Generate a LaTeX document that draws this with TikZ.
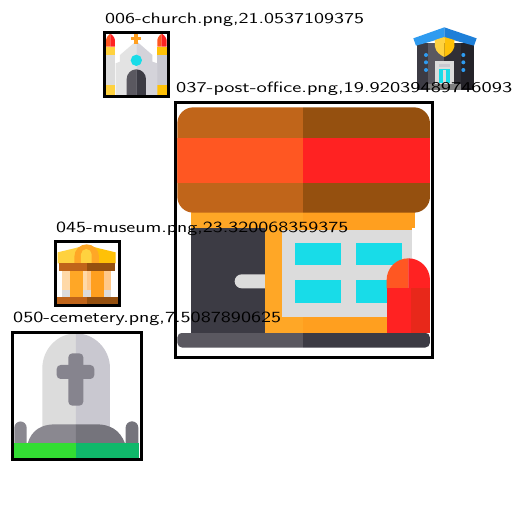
\documentclass[tikz,border=0pt]{standalone}
\definecolor{brL}{HTML}{C0651A}\definecolor{brR}{HTML}{95500F}
\definecolor{redL}{HTML}{FF5722}\definecolor{redR}{HTML}{FF2222}
\definecolor{redD}{HTML}{E8281A}
\definecolor{orL}{HTML}{FFA726}\definecolor{orR}{HTML}{FF9F1F}
\definecolor{dk}{HTML}{3C3B44}\definecolor{dkL}{HTML}{5A5860}
\definecolor{cy}{HTML}{18DCE8}\definecolor{gy}{HTML}{DCDCDC}
\definecolor{gyR}{HTML}{C9C8D0}\definecolor{ylL}{HTML}{FFD23F}\definecolor{ylR}{HTML}{FFC107}
\definecolor{bl}{HTML}{2E9BF0}\definecolor{blR}{HTML}{1E7FD8}
\definecolor{stL}{HTML}{8A8890}\definecolor{stR}{HTML}{75747C}\definecolor{crs}{HTML}{86848E}
\definecolor{grL}{HTML}{33DD33}\definecolor{grR}{HTML}{10B86A}
\definecolor{pale}{HTML}{FFD9A8}\definecolor{paleR}{HTML}{FFC88A}
\tikzset{
 frame/.style={draw=black,line width=3pt,fill=none},
 lab/.style={anchor=base west,inner sep=0pt,font=\sffamily\fontsize{14}{14}\selectfont,text=black},
 zoomed/.style={x=0.3333pt,y=-0.3333pt},
}
\newcommand{\ltx}[2]{\resizebox{#1pt}{10.5pt}{#2}}
\begin{document}
\begin{tikzpicture}[x=1pt,y=-1pt]
\useasboundingbox (0,0) rectangle (512,512);
\fill[white] (0,0) rectangle (512,512);
% church
\begin{scope}[shift={(95,5)},zoomed]
 \fill[redL] (33,125) -- (33,105) .. controls (35,95) and (42,88) .. (46,86) -- (46,125) -- cycle;
 \fill[redR] (46,86) .. controls (50,88) and (58,95) .. (60,105) -- (60,125) -- (46,125) -- cycle;
 \fill[redL] (187,125) -- (187,105) .. controls (189,95) and (196,88) .. (200,86) -- (200,125) -- cycle;
 \fill[redR] (200,86) .. controls (204,88) and (213,95) .. (215,105) -- (215,125) -- (200,125) -- cycle;
 \fill[ylL] (33,125) rectangle (60,150); \fill[ylR] (187,125) rectangle (215,150);
 \fill[gy] (33,150) rectangle (60,240); \fill[gyR] (187,150) rectangle (215,240);
 \fill[ylL] (33,240) rectangle (60,270); \fill[ylR] (187,240) rectangle (215,270);
 \fill[gy!80!white] (62,270) -- (62,175) -- (75,170) -- (75,150) -- (124,108) -- (124,270) -- cycle;
 \fill[gyR!80!white] (187,270) -- (187,175) -- (172,170) -- (172,150) -- (124,108) -- (124,270) -- cycle;
 \fill[orR] (118,88) rectangle (130,118); \fill[orR] (108,95) rectangle (138,105);
 \fill[cy] (124,166) circle[radius=17];
 \fill[dkL] (95,270) -- (95,222) arc[start angle=180,end angle=270,radius=29] -- (124,270) -- cycle;
 \fill[dk] (153,270) -- (153,222) arc[start angle=0,end angle=-90,radius=29] -- (124,270) -- cycle;
\end{scope}
\draw[frame] (104,32.5) rectangle (168,96.5);
% top right icon
\begin{scope}[shift={(400,15)},zoomed]
 \fill[dk] (50,85) rectangle (90,225); \fill[dkL] (85,85) rectangle (133,225);
 \fill[dk!80!black] (133,85) rectangle (183,225); \fill[dk!60!black] (183,85) rectangle (222,225);
 \fill[bl] (133,37) -- (40,70) -- (48,92) -- (133,68) -- cycle;
 \fill[blR] (133,37) -- (230,70) -- (222,92) -- (133,68) -- cycle;
 \fill[ylL] (133,66) -- (105,75) -- (105,95) .. controls (107,110) and (120,120) .. (133,126) -- cycle;
 \fill[ylR] (133,66) -- (163,75) -- (163,95) .. controls (160,110) and (147,120) .. (133,126) -- cycle;
 \foreach \yy in {120,142,165}{ \fill[bl] (78,\yy) circle[radius=6]; \fill[bl] (190,\yy) circle[radius=6]; }
 \fill[gy] (106,138) rectangle (162,225);
 \fill[cy] (118,162) rectangle (150,205); \fill[gy] (130,165) rectangle (138,205);
 \fill[gyR] (118,146) rectangle (150,156);
 \fill[gray] (85,208) rectangle (183,225);
\end{scope}
% post office
\begin{scope}[shift={(170,90)},zoomed]
 \fill[orL] (62,360) rectangle (400,730); \fill[orR] (400,360) rectangle (735,730);
 \fill[white] (725,415) rectangle (735,730);
 \fill[dk] (62,415) rectangle (285,730);
 \fill[gy] (335,420) rectangle (725,680);
 \fill[cy] (375,460) rectangle (513,525); \fill[cy] (557,460) rectangle (695,525);
 \fill[cy] (375,570) rectangle (513,640); \fill[cy] (557,570) rectangle (695,640);
 \fill[gy] (285,553) -- (215,553) arc[start angle=270,end angle=90,radius=21] -- (285,595) -- cycle;
 \begin{scope}
  \clip[rounded corners=16pt] (22,52) rectangle (780,368);
  \fill[brL] (22,52) rectangle (400,368); \fill[brR] (400,52) rectangle (780,368);
  \fill[redL] (22,145) rectangle (400,280); \fill[redR] (400,145) rectangle (780,280);
 \end{scope}
 \fill[redL] (650,595) -- (650,570) arc[start angle=180,end angle=270,radius=65] -- (715,595) -- cycle;
 \fill[redR] (780,595) -- (780,570) arc[start angle=0,end angle=-90,radius=65] -- (715,595) -- cycle;
 \fill[redR] (650,595) rectangle (722,730);
 \fill[redD] (722,595) rectangle (780,730);
 \begin{scope}
  \clip[rounded corners=5pt] (22,728) rectangle (780,773);
  \fill[dkL] (22,728) rectangle (400,773);
  \fill[dk] (400,728) rectangle (780,773);
 \end{scope}
\end{scope}
\draw[frame] (175.5,102) rectangle (432,357);
% museum
\begin{scope}[shift={(45,215)},zoomed]
 \fill[pale] (52,167) rectangle (125,225); \fill[paleR] (125,167) rectangle (198,225);
 \fill[gy] (52,225) rectangle (198,247);
 \fill[ylL] (38,112) -- (88,100) -- (125,90) -- (125,145) -- (38,145) -- cycle;
 \fill[ylR] (212,112) -- (162,100) -- (125,90) -- (125,145) -- (212,145) -- cycle;
 \fill[orL] (88,145) -- (88,125) arc[start angle=180,end angle=360,radius=37] -- (162,145) -- cycle;
 \fill[ylL] (108,145) -- (108,118) arc[start angle=180,end angle=360,radius=16] -- (140,145) -- cycle;
 \fill[brL] (42,145) rectangle (125,167); \fill[brR] (125,145) rectangle (210,167);
 \fill[orL] (75,167) rectangle (113,247); \fill[orR] (137,167) rectangle (177,247);
 \fill[brL] (37,247) rectangle (125,267); \fill[brR] (125,247) rectangle (218,267);
\end{scope}
\draw[frame] (55,241) rectangle (119,305);
% cemetery
\begin{scope}[shift={(5,305)},zoomed]
 \fill[gy] (112,375) -- (112,190) .. controls (112,130) and (160,85) .. (213,85) -- (213,375) -- cycle;
 \fill[gyR] (315,375) -- (315,190) .. controls (315,130) and (266,85) .. (213,85) -- (213,375) -- cycle;
 \fill[crs,rounded corners=4pt] (190,145) rectangle (235,302);
 \fill[crs,rounded corners=4pt] (155,180) rectangle (268,222);
 \fill[stL] (28,415) -- (28,368) arc[start angle=180,end angle=360,radius=18.5] -- (65,415) -- cycle;
 \fill[stR] (362,415) -- (362,368) arc[start angle=180,end angle=360,radius=19] -- (400,415) -- cycle;
 \fill[stL] (68,415) .. controls (80,375) and (110,358) .. (150,358) -- (213,358) -- (213,415) -- cycle;
 \fill[stR] (360,415) .. controls (345,375) and (315,358) .. (275,358) -- (213,358) -- (213,415) -- cycle;
 \fill[grL] (27,415) rectangle (213,458);
 \fill[grR] (213,415) rectangle (402,458);
\end{scope}
\draw[frame] (12,332) rectangle (141,459);
% labels
\node[lab] (l1) at (105,23) {\ltx{259}{006-church.png,21.0537109375}};
\node[lab] (l2) at (176,92) {\ltx{336}{037-post-office.png,19.92039489746093}};
\node[lab] (l3) at (56,232) {\ltx{292}{045-museum.png,23.320068359375}};
\node[lab] (l4) at (13,322) {\ltx{268}{050-cemetery.png,7.5087890625}};
\end{tikzpicture}
\end{document}
